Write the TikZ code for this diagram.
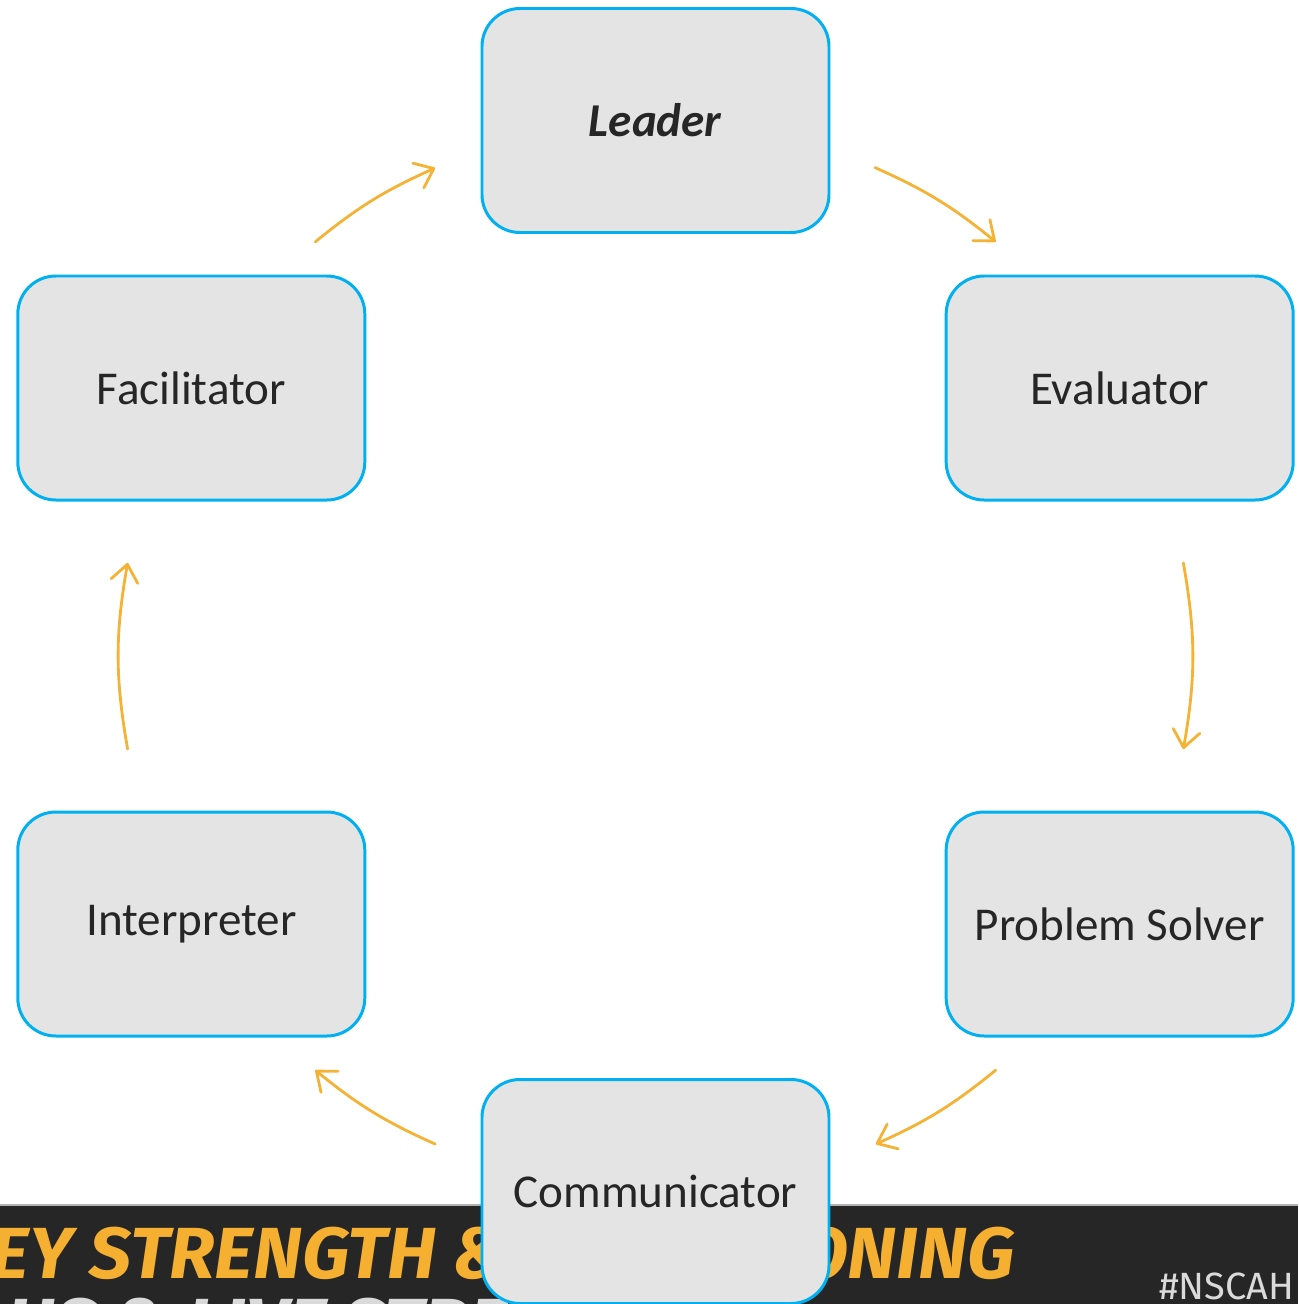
\documentclass[tikz,border=0pt]{standalone}
\usepackage{fontspec}
\setmainfont{Carlito}
\newfontfamily\bannerfont[FakeStretch=1.03]{Fira Sans}
\newfontfamily\tagfont{Fira Sans}
\usetikzlibrary{calc,arrows.meta}
\definecolor{boxline}{HTML}{00B0F0}
\definecolor{boxfill}{HTML}{E4E4E4}
\definecolor{boxtext}{HTML}{262626}
\definecolor{cyclecol}{HTML}{F5B335}
\definecolor{bannerdark}{HTML}{262626}
\definecolor{banneryellow}{HTML}{F5B031}
\definecolor{bannergrey}{HTML}{DADADA}

\begin{document}
\begin{tikzpicture}
\tikzstyle{rolebox}=[draw=boxline, fill=boxfill, line width=0.85pt, rounded corners=0.38cm,
  minimum width=3.47cm, minimum height=2.24cm, inner sep=0pt, text=boxtext,
  font=\fontsize{13.4}{16}\selectfont]
\tikzstyle{cyclearc}=[draw=cyclecol, line width=0.8pt, line cap=round,
  -{Straight Barb[length=1.7mm,width=2.7mm,round]}]
\tikzstyle{bannertext}=[inner sep=0pt, font=\bannerfont\bfseries\itshape\fontsize{20.6}{24}\selectfont]
\useasboundingbox (-6.555,-6.48) rectangle (6.425,6.56);
\clip (-6.555,-6.48) rectangle (6.425,6.56);
\fill[bannerdark] (-6.555,-6.48) rectangle (6.425,-5.49);
\draw[gray!60, line width=0.3pt] (-6.555,-5.49) -- (6.425,-5.49);
\node[bannertext, anchor=base east, text=banneryellow] (bannertop) at (3.595,-6.22) {EY STRENGTH \& CONDITIONING};
\node[bannertext, anchor=base west, text=bannergrey] (bannerlow) at (-6.50,-6.93) {HS \& LIVE STREA};
\node[inner sep=0pt, anchor=base west, text=bannergrey, font=\tagfont\fontsize{10.8}{12}\selectfont] (hashtag) at (5.03,-6.435) {\#NSCAH};

\node[rolebox] (lead) at (90:5.355) {\textbf{\textit{Leader}}};
\node[rolebox] (eval) at (30:5.36) {Evaluator};
\node[rolebox] (ps) at (-30:5.36) {Problem Solver};
\node[rolebox] (comm) at (-90:5.355) {Communicator};
\node[rolebox] (int) at (-150:5.36) {Interpreter};
\node[rolebox] (fac) at (150:5.36) {Facilitator};

\coordinate (ctr) at ($(lead)!0.5!(comm)$);
\foreach \from/\to/\off/\on in {fac/lead/20.6/24.3, lead/eval/24.2/20.6, eval/ps/20/20,
  ps/comm/20.6/24.3, comm/int/24.3/20.6, int/fac/20/20}{
  \pgfmathsetmacro\bnd{(60-\off-\on)/2}
  \draw[cyclearc] ($(ctr)!1!-\off:(\from)$) to[bend left=\bnd] ($(ctr)!1!\on:(\to)$);
}
\end{tikzpicture}
\end{document}
